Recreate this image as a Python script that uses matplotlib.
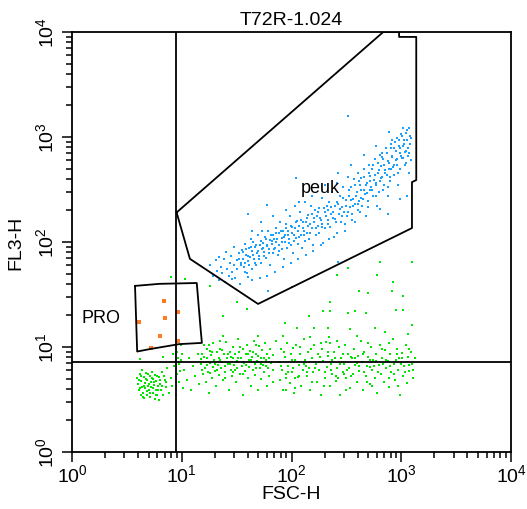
#!/usr/bin/env python3
"""
FSC-H vs FL3-H dot plot, sample T72R-1.024, with peuk / PRO gates.
Events are stored as 10-bit log channels (4 decades over 1024 channels).
"""

import numpy as np
import matplotlib
matplotlib.use("Agg")
import matplotlib.pyplot as plt
from matplotlib.ticker import FixedLocator, NullFormatter

plt.rcParams['font.family'] = ['Liberation Sans', 'DejaVu Sans']
plt.rcParams['mathtext.fontset'] = 'custom'
plt.rcParams['mathtext.rm'] = 'Liberation Sans'
plt.rcParams['mathtext.it'] = 'Liberation Sans'

# ---------------- DATA (log channels 0..1023) ----------------
TITLE = "T72R-1.024"
X_LABEL = "FSC-H"
Y_LABEL = "FL3-H"
DECADES = [0, 1, 2, 3, 4]

# picoeukaryotes (blue)
peuk_events = [
    (323,455),(328,430),(335,468),(338,441),(342,420),(344,476),
    (348,452),(351,437),(355,470),(357,415),(360,488),(362,446),(366,430),(368,462),
    (372,478),(374,440),(377,455),(379,500),(381,425),(384,468),(386,447),(389,485),(392,410),(394,460),
    (396,492),(398,470),(401,452),(403,508),(405,480),(408,436),(410,465),(412,498),(415,475),(417,520),(419,445),
    (421,490),(423,512),(425,470),(427,500),(429,455),(432,485),(434,528),(436,478),(438,505),(441,462),(443,495),(444,540),
    (446,510),(448,488),(450,525),(452,472),(455,503),(457,540),(459,495),(461,517),(463,455),(466,508),(468,530),(469,486),
    (471,520),(473,498),(475,545),(477,512),(480,480),(482,533),(484,505),(486,560),(489,522),(491,495),(493,540),(494,470),
    (496,530),(498,512),(500,555),(502,498),(505,540),(507,520),(509,575),(511,505),(514,548),(516,485),(518,530),(519,600),
    (521,545),(523,522),(525,562),(527,508),(530,550),(532,585),(534,530),(536,498),(539,560),(541,540),(543,610),(544,515),
    (546,560),(548,535),(550,578),(552,520),(555,555),(557,600),(559,545),(561,505),(564,570),(566,590),(568,530),
    (571,575),(573,550),(575,595),(577,535),(580,565),(582,620),(584,555),(586,510),(589,585),(591,545),(594,600),
    (596,590),(598,565),(600,610),(602,548),(605,580),(607,635),(609,570),(611,525),(614,600),(616,560),(619,655),
    (621,605),(623,580),(625,625),(627,560),(630,598),(632,645),(634,585),(636,540),(639,615),(641,575),(644,670),
    (646,625),(648,598),(650,645),(652,580),(655,618),(657,665),(659,605),(661,560),(664,635),(666,590),(668,680),(669,612),
    (671,650),(673,620),(675,668),(677,600),(680,640),(682,690),(684,628),(686,575),(689,655),(691,612),(693,700),(694,640),
    (696,672),(698,645),(700,690),(702,625),(705,662),(707,715),(709,650),(711,600),(714,680),(716,635),(718,725),(719,660),
    (721,698),(723,670),(725,715),(727,650),(730,688),(732,740),(734,676),(736,625),(739,705),(741,660),(743,750),(744,690),
    (722,730),(738,645),
    (746,722),(748,695),(750,740),(752,675),(755,712),(757,765),(759,700),(761,650),(764,730),(766,690),(768,775),(769,718),
    (747,760),(762,745),
    (771,745),(773,718),(775,760),(777,700),(780,735),(782,785),(784,722),(786,680),(789,752),(791,712),(772,790),(788,770),
    (644,819),(523,668),(454,602),(411,580),(457,392),(512,402),(621,463),(411,427),(373,422),
    (765,617),(782,624),(719,592),(737,580),
    (390,470),(395,455),(400,488),(404,462),(407,495),(411,478),(414,455),(418,500),(422,480),(426,460),
    (430,505),(433,490),(437,470),(440,515),(445,498),(449,478),(453,520),(456,505),(460,485),(464,530),
    (467,515),(472,495),(476,535),(479,520),(483,490),(487,540),(490,512),(495,525),(499,545),(503,530),
    (506,510),(510,550),(513,535),(517,515),(522,560),(526,540),(529,525),(533,565),(538,545),(542,528),
    (547,570),(551,552),(556,535),(560,580),(565,560),(569,545),(574,585),(578,570),(583,548),(588,595),
    (593,575),(597,555),(603,598),(608,585),(613,568),(618,610),(624,592),(629,575),(633,620),(638,600),
    (643,585),(647,640),(651,615),(656,600),(660,650),(663,625),(667,605),(670,660),(674,640),(678,618),
    (681,670),(685,650),(688,632),(692,680),(695,660),(699,640),(703,700),(706,675),(710,655),(713,705),
    (717,688),(720,668),(724,720),(728,700),(731,680),(735,730),(737,710),(740,690),(744,740),(747,720),
    (750,700),(753,755),(756,735),(758,715),(762,760),(765,742),(767,722),(770,770),(774,752),(776,732),
    (779,778),(781,760),(783,742),(785,790),(787,728),(790,765),(778,705),(760,680),(742,670),(726,640),
    (708,625),(690,598),(672,585),(654,565),(636,555),(618,535),(600,520),(580,505),(562,490),(545,480),
    (528,470),(510,460),(492,450),(474,440),(456,430),(438,425),(420,420),(404,440),
    (420,540),(440,560),(470,575),(500,590),(530,610),(560,625),(590,650),(620,680),(650,700),(680,725),
    (710,745),(740,780),
]

# prochlorococcus (orange)
pro_events = [(215,369),(248,342),(217,326),(157,316),(205,282),(248,271),(184,253)]

# everything else (green)
other_events = [
    # small cluster left of the FSC threshold
    (152,180),(155,165),(157,150),(158,190),(160,140),(161,172),(163,158),(164,200),(166,145),(167,183),
    (169,132),(170,168),(171,155),(173,192),(175,140),(176,176),(178,162),(179,150),(181,185),(182,135),
    (184,170),(185,158),(187,195),(188,145),(190,178),(191,163),(193,130),(194,188),(196,150),(197,172),
    (199,140),(200,160),(202,182),(204,128),(206,167),(208,150),(210,195),(213,138),(216,175),(219,158),
    (222,205),(226,145),(230,180),(234,162),(238,210),(242,140),(246,190),(250,170),(255,225),(258,155),
    (156,175),(159,155),(162,185),(165,135),(168,160),(172,178),(174,148),(177,190),(180,165),(183,145),
    (186,180),(189,155),(192,170),(195,140),(198,185),(201,150),(205,175),(209,160),(214,185),(220,170),
    (244,245),(247,230),(250,215),(252,198),(254,260),(256,240),
    (262,200),(268,175),(272,230),(278,150),(283,210),(288,185),(293,240),(297,165),
    # middle cluster
    (301,215),(304,240),(306,190),(308,260),(310,205),(312,170),(314,228),(316,250),(318,195),(320,145),
    (322,218),(324,236),(326,180),(328,208),(330,265),(332,225),(334,198),(336,160),(338,243),(340,212),
    (342,230),(344,188),(346,252),(348,205),(350,220),(352,175),(354,240),(356,210),(358,195),(360,268),
    (362,228),(364,215),(366,150),(368,245),(370,200),(372,232),(374,185),(376,256),(378,212),(380,238),
    (382,170),(384,222),(386,205),(388,275),(390,245),(392,190),(394,228),(396,210),(398,140),(400,252),
    (402,218),(404,198),(406,238),(408,262),(410,180),(412,225),(414,208),(416,246),(418,160),(420,232),
    (422,200),(424,270),(426,215),(428,188),(430,240),(432,222),(434,150),(436,258),(438,205),(440,230),
    (442,178),(444,248),(446,212),(448,195),(450,265),(452,225),(454,160),(456,240),(458,205),(460,185),
    (462,250),(465,218),(468,170),(470,236),
    (303,200),(309,232),(315,212),(321,192),(327,245),(333,215),(339,200),(345,225),(351,248),(357,180),
    (363,238),(369,215),(375,228),(381,200),(387,230),(393,255),(399,220),(405,212),(411,240),(417,225),
    (423,245),(429,205),(435,235),(441,215),(447,230),(453,210),(459,228),(320,260),(345,270),(375,195),
    (400,190),(430,260),
    # large-FSC cluster
    (482,220),(485,175),(488,250),(490,200),(493,150),(496,232),(499,190),(502,265),(505,210),(508,168),
    (511,240),(514,195),(517,145),(520,225),(523,260),(526,182),(529,212),(532,240),(535,160),(538,200),
    (541,275),(544,225),(547,185),(550,245),(553,205),(556,150),(559,230),(562,195),(565,260),(568,215),
    (571,170),(574,238),(577,200),(580,140),(583,250),(586,222),(589,180),(592,268),(595,208),(598,235),
    (601,160),(604,215),(607,190),(610,245),(613,228),(616,172),(619,205),(622,255),(625,140),(628,230),
    (631,195),(634,215),(637,262),(640,180),(643,240),(646,205),(649,155),(652,228),(655,190),(658,250),
    (661,212),(664,170),(667,235),(670,198),(673,270),(676,220),(679,150),(682,245),(685,185),(688,210),
    (691,232),(694,165),(697,255),(700,200),(703,225),(706,180),(709,240),(712,145),(715,212),(718,262),
    (721,190),(724,230),(727,170),(730,248),(733,205),(736,222),(739,158),(742,238),(745,195),(748,275),
    (751,215),(754,175),(757,250),(760,200),(763,228),(766,140),(769,242),(772,185),(775,210),(778,260),
    (781,168),(784,232),(787,198),(790,245),(793,215),(796,180),(799,230),
    (515,205),(545,210),(575,220),(605,200),(635,190),(665,218),(695,208),(725,215),(755,225),(785,212),
    (500,180),(560,170),(620,180),(680,195),(740,180),(470,200),(530,185),(590,195),(650,232),(710,222),
    (770,230),
    (487,210),(495,245),(503,195),(512,225),(521,180),(531,255),(540,215),(549,195),(558,250),(567,205),
    (578,232),(587,160),(596,245),(606,225),(615,185),(624,215),(633,240),(642,200),(651,185),(660,230),
    (669,210),(678,240),(687,170),(696,225),(705,210),(714,195),(723,250),(732,225),(741,210),(750,190),
    (759,240),(768,215),(777,195),(786,250),(795,200),(556,280),(600,280),(640,150),(700,160),(760,160),
    (520,155),(580,265),(690,265),(740,265),(500,150),
    # sparse events above the band
    (232,427),(264,422),(322,405),(384,366),(408,349),(352,283),(434,283),(322,246),(302,227),(159,227),
    (212,232),(236,239),(352,332),
    (719,464),(792,464),(644,449),(617,431),(712,431),(749,414),(670,392),(691,388),(747,392),(772,380),
    (602,366),(586,344),(602,344),(553,332),(644,339),(660,344),(686,339),(756,346),(772,346),(497,314),
    (524,302),(565,302),(597,302),(649,300),(707,302),(730,293),(792,310),(784,288),(664,283),(618,271),
    (602,266),(492,283),(476,271),(516,254),
]

# gates
peuk_gate = [(244,584),(275,471),(434,361),(793,546),(793,658),(803,663),(803,1012),
             (763,1012),(763,1024),(726,1024),(244,584)]
pro_gate = [(147,405),(204,410),(291,412),(300,300),(303,266),(250,263),(182,251),(152,245),(147,405)]
FSC_THRESHOLD = 243   # vertical quadrant line
FL3_THRESHOLD = 220   # horizontal quadrant line

PEUK_LABEL_POS = (579, 646)
PRO_LABEL_POS = (68, 329)


def ch2val(c):
    return 10 ** (np.asarray(c, dtype=float) / 256.0)


def unzip(events):
    a = np.array(events, dtype=float)
    return ch2val(a[:, 0]), ch2val(a[:, 1])


# ---------------- Plot ----------------
fig = plt.figure(figsize=(5.27, 5.10), dpi=100)
ax = fig.add_axes([72/527, 57/510, 439/527, 420/510])
ax.set_xscale("log")
ax.set_yscale("log")
ax.set_xlim(1, 1e4)
ax.set_ylim(1, 1e4)

dot = dict(marker="s", s=4.6, linewidths=0)
x, y = unzip(other_events)
ax.scatter(x, y, color="#00e600", **dot)
x, y = unzip(peuk_events)
ax.scatter(x, y, color="#1aa0ff", **dot)
x, y = unzip(pro_events)
ax.scatter(x, y, color="#ff7a20", marker="s", s=6.5, linewidths=0)

gx, gy = unzip(peuk_gate)
ax.plot(gx, gy, color="black", lw=1.3)
gx, gy = unzip(pro_gate)
ax.plot(gx, gy, color="black", lw=1.3)

ax.axvline(ch2val(FSC_THRESHOLD), color="black", lw=1.3)
ax.axhline(ch2val(FL3_THRESHOLD), color="black", lw=1.3)

px, py = ch2val(PEUK_LABEL_POS)
ax.text(px, py, "peuk", ha="center", va="center", fontsize=13)
px, py = ch2val(PRO_LABEL_POS)
ax.text(px, py, "PRO", ha="center", va="center", fontsize=13)

# ticks
major = [10.0 ** d for d in DECADES]
minor = [m * 10.0 ** d for d in DECADES[:-1] for m in range(2, 10)]
labels = [rf"$10^{{{d}}}$" for d in DECADES]
for axis in (ax.xaxis, ax.yaxis):
    axis.set_major_locator(FixedLocator(major))
    axis.set_minor_locator(FixedLocator(minor))
    axis.set_minor_formatter(NullFormatter())
ax.set_xticklabels(labels, fontsize=14)
ax.set_yticklabels(labels, fontsize=14, rotation=90, va="center")
ax.tick_params(which="major", direction="out", length=7, width=1.1)
ax.tick_params(axis="x", which="major", pad=1)
ax.tick_params(axis="y", which="major", pad=4)
ax.tick_params(which="minor", direction="out", length=4, width=1.1)
for sp in ax.spines.values():
    sp.set_linewidth(1.3)

ax.set_title(TITLE, fontsize=14, pad=6)
ax.set_xlabel(X_LABEL, fontsize=14, labelpad=0)
ax.set_ylabel(Y_LABEL, fontsize=14)
ax.yaxis.set_label_coords(-0.108, 0.5)

fig.savefig("out.png", dpi=100)
